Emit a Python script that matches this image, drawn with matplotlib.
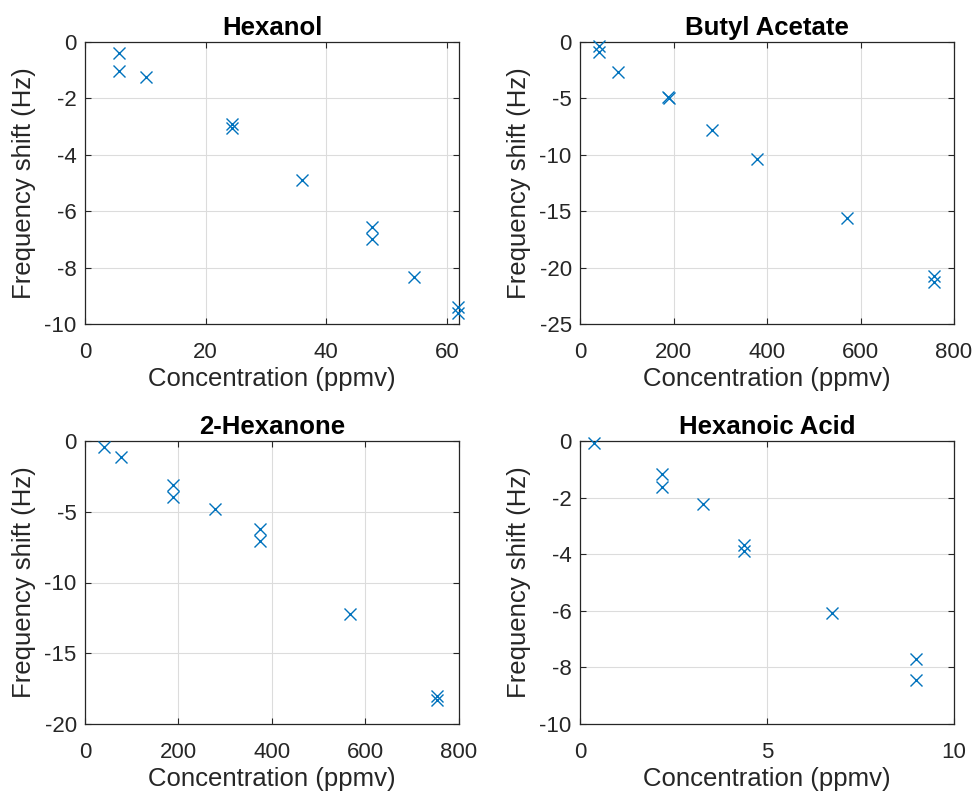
import matplotlib
matplotlib.use("Agg")
import matplotlib.pyplot as plt

plt.rcParams['font.family'] = ['Liberation Sans', 'DejaVu Sans']
plt.rcParams['axes.unicode_minus'] = False

titles = ["Hexanol", "Butyl Acetate", "2-Hexanone", "Hexanoic Acid"]

hexanol_x = [5.6, 5.6, 10.1, 24.3, 24.3, 35.9, 47.5, 47.5, 54.5, 61.8, 61.8]
hexanol_y = [-0.40, -1.02, -1.23, -2.92, -3.04, -4.89, -6.55, -6.99, -8.34, -9.39, -9.62]

butyl_x = [41, 41, 82, 189, 190, 283, 378, 572, 757, 757]
butyl_y = [-0.35, -0.86, -2.69, -4.85, -5.0, -7.8, -10.4, -15.58, -20.74, -21.25]

hexanone_x = [40.6, 76, 188.7, 188.7, 279, 374.6, 374.6, 567.7, 753.6, 753.6]
hexanone_y = [-0.45, -1.15, -3.11, -3.94, -4.83, -6.25, -7.05, -12.26, -18.02, -18.27]

acid_x = [0.375, 2.2, 2.2, 3.29, 4.39, 4.39, 6.74, 8.98, 8.98]
acid_y = [-0.08, -1.18, -1.64, -2.23, -3.66, -3.88, -6.09, -7.72, -8.46]

xlims = [(0, 62), (0, 800), (0, 800), (0, 10)]
ylims = [(-10, 0), (-25, 0), (-20, 0), (-10, 0)]
xticks = [[0, 20, 40, 60], [0, 200, 400, 600, 800], [0, 200, 400, 600, 800], [0, 5, 10]]
yticks = [[-10, -8, -6, -4, -2, 0], [-25, -20, -15, -10, -5, 0],
          [-20, -15, -10, -5, 0], [-10, -8, -6, -4, -2, 0]]

data = [(hexanol_x, hexanol_y), (butyl_x, butyl_y),
        (hexanone_x, hexanone_y), (acid_x, acid_y)]

W, H = 978, 797
fig = plt.figure(figsize=(W / 100, H / 100), dpi=100)

boxes = [(85, 42, 459, 324), (580, 42, 954, 324),
         (85, 441, 459, 724), (580, 441, 954, 724)]

dark = '#262626'
for i, (l, t, r, b) in enumerate(boxes):
    ax = fig.add_axes([l / W, 1 - b / H, (r - l) / W, (b - t) / H])
    x, y = data[i]
    ax.plot(x, y, linestyle='none', marker='x', color='#0072BD',
            markersize=9, markeredgewidth=1.0, clip_on=False, zorder=3)
    ax.set_xlim(*xlims[i])
    ax.set_ylim(*ylims[i])
    ax.set_xticks(xticks[i])
    ax.set_yticks(yticks[i])
    ax.grid(True, color='#dcdcdc', linewidth=0.8)
    ax.set_axisbelow(True)
    ax.tick_params(direction='in', length=4, width=0.8, colors=dark,
                   labelsize=16, top=True, right=True)
    ax.tick_params(axis='x', pad=13)
    ax.tick_params(axis='y', pad=6)
    for s in ax.spines.values():
        s.set_color(dark)
        s.set_linewidth(0.9)
    ax.set_title(titles[i], fontsize=18.5, fontweight='bold', color='black', pad=5)
    ax.set_xlabel("Concentration (ppmv)", fontsize=18.5, color=dark, labelpad=3)
    ax.set_ylabel("Frequency shift (Hz)", fontsize=18.5, color=dark, labelpad=6)

fig.savefig("out.png", dpi=100)
